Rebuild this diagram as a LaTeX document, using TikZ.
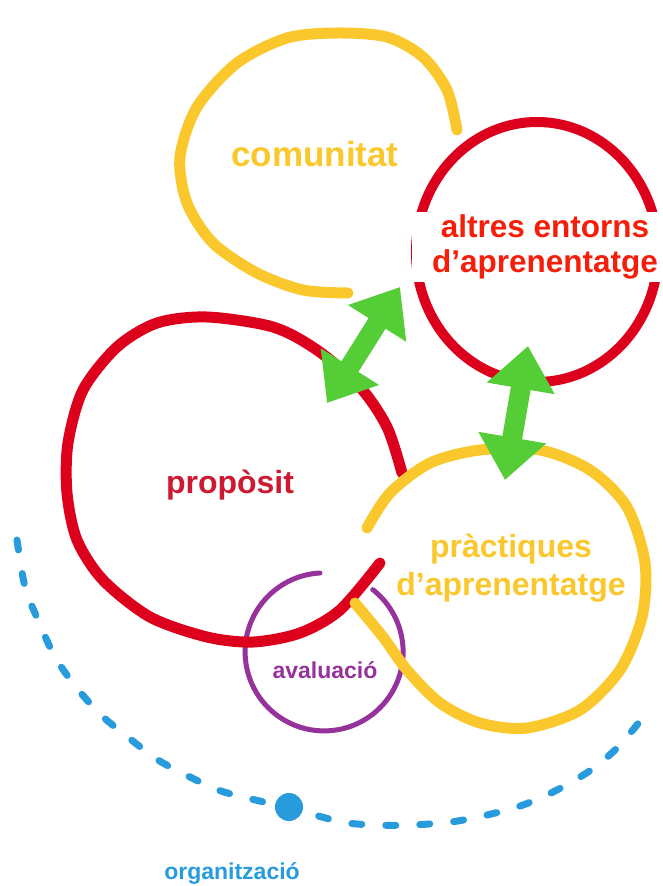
\documentclass[tikz,border=0pt]{standalone}
\usepackage{fontspec}
\setmainfont{Liberation Sans}
\usepackage{tikz}
\usepackage{xcolor}
\usetikzlibrary{arrows.meta}

\definecolor{groc}{RGB}{250,200,45}
\definecolor{vermell}{RGB}{220,0,28}
\definecolor{vermellt}{RGB}{245,30,10}
\definecolor{granat}{RGB}{205,25,50}
\definecolor{verd}{RGB}{85,205,55}
\definecolor{lila}{RGB}{150,50,155}
\definecolor{blau}{RGB}{40,155,220}

\begin{document}
\begin{tikzpicture}[x=1pt, y=-1pt,
        ring/.style={line width=11pt, line cap=round},
        dbl/.style={verd, line width=20pt,
            {Triangle[width=66pt,length=43pt]}-{Triangle[width=66pt,length=43pt]}},
        lbl/.style={font=\bfseries\fontsize{32}{35}\selectfont, align=center},
        petit/.style={font=\bfseries\fontsize{23}{26}\selectfont}]
        \fill[white] (0,0) rectangle (662,886);
        \useasboundingbox (0,0) rectangle (662,886);

        % organitzacio
        \draw[blau, line width=7pt, line cap=round, dash pattern=on 10pt off 24pt]
            plot[smooth] coordinates {(17,540) (25,587) (38,620) (55,657) (76,687)
            (101,715) (129,738) (158,760) (192,778) (224,792) (289,808) (342,822)
            (376,825) (411,825) (451,822) (487,815) (523,805) (557,790) (591,770)
            (618,747) (645,715)};
        \fill[blau] (289,807) circle (14);

        % avaluacio
        \draw[lila, line width=5pt, line cap=round]
            (320,573) arc[start angle=-93, end angle=-412, radius=79];

        % proposit
        \draw[vermell, ring] plot[smooth] coordinates {(402,473) (387,427) (360,387)
            (317,350) (273,327) (207,317) (157,323) (117,347) (83,390) (68,443)
            (67,493) (77,540) (103,580) (150,617) (207,637) (253,642) (300,633)
            (340,610) (380,563)};

        % practiques
        \draw[groc, ring] plot[smooth] coordinates {(367,528) (390,493) (430,463)
            (480,450) (540,450) (590,470) (627,507) (645,563) (642,617) (620,670)
            (580,710) (527,728) (480,723) (440,703) (407,670) (383,637) (355,603)};

        % comunitat
        \draw[groc, ring] plot[smooth] coordinates {(457,130) (447,90) (423,57)
            (387,37) (337,33) (287,38) (237,63) (197,107) (180,157) (187,203)
            (213,243) (257,273) (303,290) (348,293)};

        % altres entorns
        \draw[vermell, line width=10pt] (537,252) ellipse [x radius=121, y radius=130];

        \node[lbl, groc, font=\bfseries\fontsize{35}{40}\selectfont, anchor=base] (com) at (315,166) {comunitat};
        \node[lbl, vermellt, fill=white, inner xsep=20pt, inner ysep=3pt,
            font=\bfseries\fontsize{31.5}{35}\selectfont] (alt) at (545,247) {altres entorns\\d’aprenentatge};
        \node[lbl, granat, anchor=base] (prop) at (230,493) {propòsit};
        \node[lbl, groc, font=\bfseries\fontsize{32}{38}\selectfont] (prac) at (511,568) {pràctiques\\d’aprenentatge};
        \node[petit, lila, anchor=base] (aval) at (325,678) {avaluació};
        \node[petit, blau, anchor=base] (org) at (232,879) {organització};

        \coordinate (g1a) at (327,403);
        \coordinate (g1b) at (400,287);
        \coordinate (g2a) at (505,480);
        \coordinate (g2b) at (528,346);

        \draw[dbl] (g1a) -- (g1b);
        \draw[dbl] (g2a) -- (g2b);
\end{tikzpicture}
\end{document}
